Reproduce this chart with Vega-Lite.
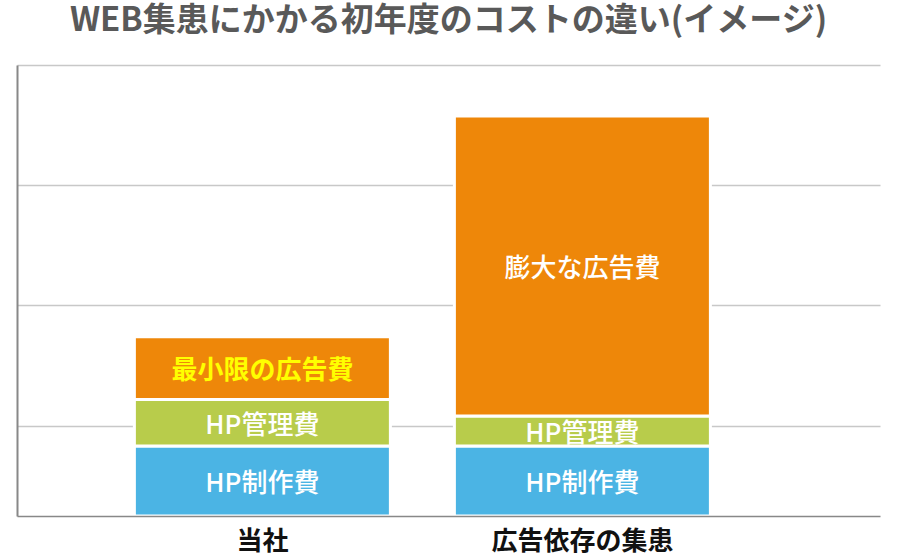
{
  "$schema": "https://vega.github.io/schema/vega-lite/v6.json",
  "width": 863,
  "height": 451,
  "autosize": {"type": "none"},
  "padding": {"left": 17, "top": 65, "right": 20, "bottom": 44},
  "background": "white",
  "config": {
    "font": "Noto Sans CJK JP",
    "view": {"stroke": null}
  },
  "title": {
    "text": "WEB集患にかかる初年度のコストの違い(イメージ)",
    "fontSize": 33,
    "fontWeight": "bold",
    "color": "#595959",
    "anchor": "middle",
    "baseline": "alphabetic",
    "offset": 1
  },
  "data": {
    "values": [
      {"company": "当社", "type": "HP制作費", "label": "HP制作費", "order": 1, "cost": 70},
      {"company": "当社", "type": "HP管理費", "label": "HP管理費", "order": 2, "cost": 46.5},
      {"company": "当社", "type": "広告費", "label": "最小限の広告費", "order": 3, "cost": 62.7},
      {"company": "広告依存の集患", "type": "HP制作費", "label": "HP制作費", "order": 1, "cost": 70},
      {"company": "広告依存の集患", "type": "HP管理費", "label": "HP管理費", "order": 2, "cost": 30},
      {"company": "広告依存の集患", "type": "広告費", "label": "膨大な広告費", "order": 3, "cost": 300}
    ]
  },
  "encoding": {
    "x": {
      "field": "company",
      "type": "nominal",
      "sort": ["当社", "広告依存の集患"],
      "title": null,
      "scale": {"paddingInner": 0.2, "paddingOuter": 0.4484, "align": 0.409},
      "axis": {
        "labelAngle": 0,
        "labelFontSize": 26,
        "labelFontWeight": "bold",
        "labelColor": "#111111",
        "labelPadding": 12,
        "labelLimit": 0,
        "ticks": false,
        "domainColor": "#888888",
        "domainWidth": 1.5,
        "grid": false,
        "zindex": 1
      }
    },
    "y": {
      "field": "cost",
      "type": "quantitative",
      "stack": "zero",
      "title": null,
      "scale": {"domain": [0, 451], "nice": false},
      "axis": {
        "values": [90, 210.5, 331, 451],
        "labels": false,
        "ticks": false,
        "domainColor": "#888888",
        "domainWidth": 2,
        "gridColor": "#c8c8c8",
        "gridWidth": 1.5
      }
    },
    "order": {"field": "order", "type": "quantitative"}
  },
  "layer": [
    {
      "mark": {"type": "bar", "stroke": "white", "strokeWidth": 3},
      "encoding": {
        "color": {
          "field": "type",
          "type": "nominal",
          "scale": {
            "domain": ["HP制作費", "HP管理費", "広告費"],
            "range": ["#4bb4e4", "#b8cc4b", "#ee8709"]
          },
          "legend": null
        }
      }
    },
    {
      "mark": {"type": "text", "fontSize": 26, "fontWeight": 500, "color": "white", "baseline": "middle", "dy": 3},
      "encoding": {
        "y": {"field": "cost", "type": "quantitative", "stack": "zero", "bandPosition": 0.5},
        "text": {
          "condition": {"test": "datum.label === '最小限の広告費'", "value": ""},
          "field": "label"
        }
      }
    },
    {
      "mark": {"type": "text", "fontSize": 26, "fontWeight": "bold", "color": "#ffff00", "baseline": "middle", "dy": 3},
      "encoding": {
        "y": {"field": "cost", "type": "quantitative", "stack": "zero", "bandPosition": 0.5},
        "text": {
          "condition": {"test": "datum.label !== '最小限の広告費'", "value": ""},
          "field": "label"
        }
      }
    }
  ]
}
